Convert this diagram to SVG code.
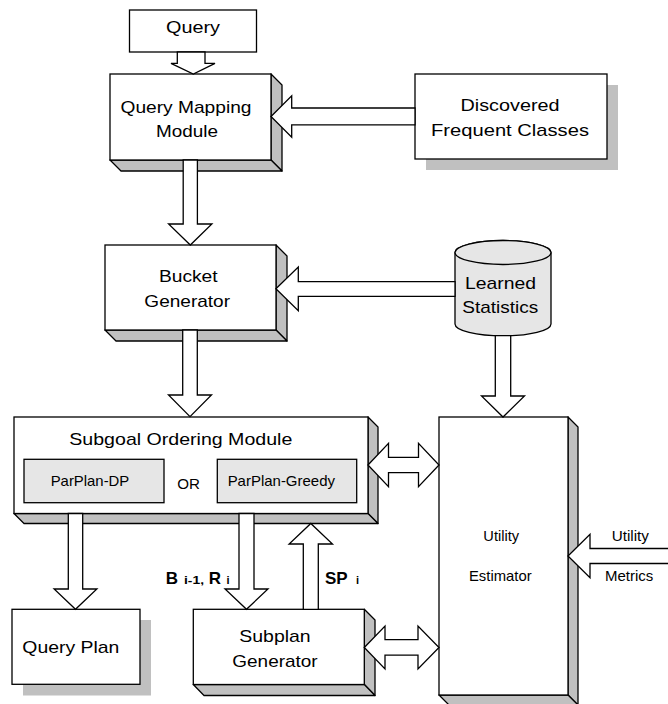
<svg xmlns="http://www.w3.org/2000/svg" width="668" height="704" viewBox="0 0 668 704">
  <style>
    .box { fill: #ffffff; stroke: #000000; stroke-width: 1.3; }
    .face { fill: #c0c0c0; stroke: #000000; stroke-width: 1.3; stroke-linejoin: round; }
    .shadow { fill: #c0c0c0; stroke: none; }
    .inner { fill: #e6e6e6; stroke: #000000; stroke-width: 1.3; }
    .drum { fill: #e6e6e6; stroke: #000000; stroke-width: 1.3; }
    .arrow { fill: #ffffff; stroke: #000000; stroke-width: 1.3; stroke-linejoin: miter; }
    text { font-family: "Liberation Sans", Arial, Helvetica, sans-serif; fill: #000000; }
    .lbl { font-size: 17px; text-anchor: middle; }
    .sm { font-size: 14.5px; text-anchor: middle; }
    .bold { font-size: 17px; font-weight: bold; }
    .sub { font-size: 11px; font-weight: bold; }
  </style>

  <!-- Input query -->
  <g id="query">
    <rect class="box" x="129.5" y="10" width="127" height="42"/>
    <text class="lbl" x="193" y="33.3" textLength="54" lengthAdjust="spacingAndGlyphs">Query</text>
  </g>

  <!-- Query mapping module (raised block) -->
  <g id="query-mapping-module">
    <polygon class="face" points="271,74 282,85 282,171 271,160"/>
    <polygon class="face" points="110,160 271,160 282,171 121,171"/>
    <rect class="box" x="110" y="74" width="161" height="86"/>
    <text class="lbl" x="186" y="112.7" textLength="131" lengthAdjust="spacingAndGlyphs">Query Mapping</text>
    <text class="lbl" x="187" y="136.7" textLength="62" lengthAdjust="spacingAndGlyphs">Module</text>
  </g>

  <!-- Discovered frequent classes (drop shadow) -->
  <g id="discovered-frequent-classes">
    <rect class="shadow" x="426" y="85" width="192" height="85"/>
    <rect class="box" x="415" y="74" width="192" height="85"/>
    <text class="lbl" x="510" y="110.7" textLength="99" lengthAdjust="spacingAndGlyphs">Discovered</text>
    <text class="lbl" x="510" y="136" textLength="158" lengthAdjust="spacingAndGlyphs">Frequent Classes</text>
  </g>

  <!-- Bucket generator (raised block) -->
  <g id="bucket-generator">
    <polygon class="face" points="276,245 287,256 287,341 276,330"/>
    <polygon class="face" points="105,330 276,330 287,341 116,341"/>
    <rect class="box" x="105" y="245" width="171" height="85"/>
    <text class="lbl" x="188.3" y="281.7" textLength="58.7" lengthAdjust="spacingAndGlyphs">Bucket</text>
    <text class="lbl" x="187.2" y="307.3" textLength="85.7" lengthAdjust="spacingAndGlyphs">Generator</text>
  </g>

  <!-- Learned statistics store (cylinder) -->
  <g id="learned-statistics">
    <path class="drum" d="M455,252.5 V324 A48,12 0 0 0 551,324 V252.5 A48,12 0 0 0 455,252.5 Z"/>
    <ellipse class="drum" cx="503" cy="252.5" rx="48" ry="12"/>
    <text class="lbl" x="500.5" y="289.3" textLength="71" lengthAdjust="spacingAndGlyphs">Learned</text>
    <text class="lbl" x="500.3" y="312.7" textLength="76" lengthAdjust="spacingAndGlyphs">Statistics</text>
  </g>

  <!-- Subgoal ordering module with its two strategies -->
  <g id="subgoal-ordering-module">
    <polygon class="face" points="368,417 378,427 378,523.5 368,513.5"/>
    <polygon class="face" points="14,513.5 368,513.5 378,523.5 24,523.5"/>
    <rect class="box" x="14" y="417" width="354" height="96.5"/>
    <text class="lbl" x="180.8" y="445" textLength="223" lengthAdjust="spacingAndGlyphs">Subgoal Ordering Module</text>
    <g id="parplan-dp">
      <rect class="inner" x="24" y="459.3" width="140" height="43.4"/>
      <text class="sm" x="90" y="486" textLength="78.6" lengthAdjust="spacingAndGlyphs">ParPlan-DP</text>
    </g>
    <text class="sm" x="188.7" y="489.3" textLength="22.7" lengthAdjust="spacingAndGlyphs">OR</text>
    <g id="parplan-greedy">
      <rect class="inner" x="217.3" y="459.3" width="139.4" height="43.4"/>
      <text class="sm" x="281.3" y="486" textLength="107.3" lengthAdjust="spacingAndGlyphs">ParPlan-Greedy</text>
    </g>
  </g>

  <!-- Utility estimator (tall raised block) -->
  <g id="utility-estimator">
    <polygon class="face" points="568,417 578,427 578,705 568,695"/>
    <polygon class="face" points="439,695 568,695 578,705 449,705"/>
    <rect class="box" x="439" y="417" width="129" height="278"/>
    <text class="sm" x="501.2" y="540.7" textLength="35.7" lengthAdjust="spacingAndGlyphs">Utility</text>
    <text class="sm" x="500.3" y="581" textLength="62.7" lengthAdjust="spacingAndGlyphs">Estimator</text>
  </g>

  <!-- Final query plan (drop shadow) -->
  <g id="query-plan">
    <rect class="shadow" x="23" y="620" width="128" height="75.5"/>
    <rect class="box" x="12" y="609.3" width="128" height="75"/>
    <text class="lbl" x="70.8" y="653.3" textLength="97" lengthAdjust="spacingAndGlyphs">Query Plan</text>
  </g>

  <!-- Subplan generator (raised block) -->
  <g id="subplan-generator">
    <polygon class="face" points="364.3,609.3 375,620 375,695.5 364.3,684.5"/>
    <polygon class="face" points="193.3,684.5 364.3,684.5 375,695.5 204,695.5"/>
    <rect class="box" x="193.3" y="609.3" width="171" height="75.2"/>
    <text class="lbl" x="275" y="641.7" textLength="71.4" lengthAdjust="spacingAndGlyphs">Subplan</text>
    <text class="lbl" x="275" y="666.7" textLength="85.4" lengthAdjust="spacingAndGlyphs">Generator</text>
  </g>

  <!-- Block arrows between the modules -->
  <g id="connectors">
    <polygon class="arrow" points="177.3,52 205,52 205,63.3 215,63.3 193.3,74 171,63.3 177.3,63.3"/>
    <polygon class="arrow" points="415,108 291.7,108 291.7,95.8 271,116.5 291.7,137.3 291.7,124.8 415,124.8"/>
    <polygon class="arrow" points="183.2,160 197.4,160 197.4,224 211.9,224 190.3,245 168.6,224 183.2,224"/>
    <polygon class="arrow" points="455,281.6 298.3,281.6 298.3,267 275.9,288.8 298.3,310.6 298.3,296.4 455,296.4"/>
    <polygon class="arrow" points="182.7,330 197.3,330 197.3,395 211.5,395 190,416.7 168.5,395 182.7,395"/>
    <polygon class="arrow" points="495.3,335.6 510.7,335.6 510.7,396 524.5,396 503,417 481.5,396 495.3,396"/>
    <polygon class="arrow" points="368,465 388.5,443.3 388.5,457.3 418.5,457.3 418.5,443.3 439,465 418.5,486.7 418.5,472.7 388.5,472.7 388.5,486.7"/>
    <polygon class="arrow" points="68.3,513.5 82.7,513.5 82.7,589 96.9,589 75.5,609.3 54.1,589 68.3,589"/>
    <polygon class="arrow" points="239,513.5 254,513.5 254,589 268,589 246.5,609.3 225,589 239,589"/>
    <polygon class="arrow" points="303.3,609.3 318.3,609.3 318.3,544 332.5,544 310.8,523.5 289.1,544 303.3,544"/>
    <polygon class="arrow" points="364.3,647.5 385,626 385,639.6 418,639.6 418,626 439,647.5 418,669 418,655.2 385,655.2 385,669"/>
    <polygon class="arrow" points="672,548.5 590,548.5 590,534.3 568,556 590,577.7 590,563.5 672,563.5"/>
  </g>

  <!-- Arrow labels -->
  <g id="labels">
    <text class="bold" x="165.7" y="584">B</text>
    <text class="sub" x="184" y="584" textLength="20" lengthAdjust="spacingAndGlyphs">i-1,</text>
    <text class="bold" x="208.7" y="584">R</text>
    <text class="sub" x="226.5" y="584">i</text>
    <text class="bold" x="325" y="584">SP</text>
    <text class="sub" x="356" y="584">i</text>
    <text class="sm" x="630.3" y="540.7" textLength="37.3" lengthAdjust="spacingAndGlyphs">Utility</text>
    <text class="sm" x="629.2" y="581" textLength="48.3" lengthAdjust="spacingAndGlyphs">Metrics</text>
  </g>
</svg>
